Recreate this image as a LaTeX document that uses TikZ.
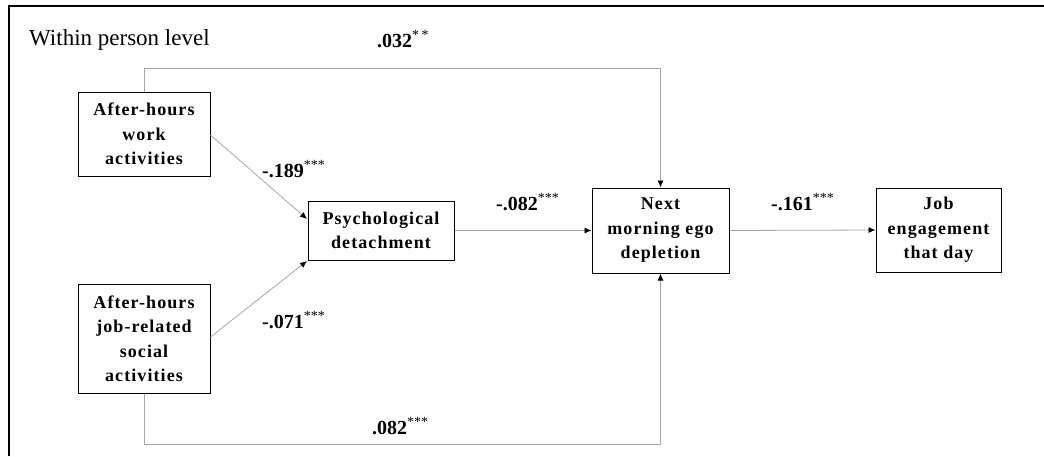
\documentclass[tikz,border=0pt]{standalone}
\usepackage{fontspec}
\setmainfont{Liberation Serif}
\newfontfamily\boxfont[LetterSpace=6]{Liberation Serif}
\usetikzlibrary{arrows.meta}
\begin{document}
\begin{tikzpicture}[x=1pt,y=-1pt,
  box/.style={draw=black,line width=1pt,align=center,inner sep=0pt,
    font=\boxfont\bfseries\fontsize{18}{24.5}\selectfont},
  conn/.style={draw=black!35,line width=0.8pt},
  arr/.style={conn,-{Latex[color=black,length=7pt,width=6pt]}},
  lab/.style={anchor=base west,inner sep=0pt,font=\bfseries\fontsize{20}{22}\selectfont}]
\useasboundingbox (0,0) rectangle (1044,456);
\fill[white] (0,0) rectangle (1044,456);
\draw[line width=2.6pt] (9,456) -- (9,6) -- (1044,6);
\node[anchor=base west,inner sep=0pt,font=\fontsize{23}{24}\selectfont] (title) at (29,45) {Within person level};

\node[box,minimum width=132,minimum height=84] (w) at (144,134) {After-hours\\work\\activities};
\node[box,minimum width=132,minimum height=109] (s) at (144,338.5) {After-hours\\job-related\\social\\activities};
\node[box,minimum width=146,minimum height=59] (p) at (381,230.5) {Psychological\\detachment};
\node[box,minimum width=137,minimum height=85] (n) at (660.5,230.5) {Next\\morning ego\\depletion};
\node[box,minimum width=125,minimum height=84] (j) at (938.5,230) {Job\\engagement\\that day};

\coordinate (t1) at (144,68);
\coordinate (t2) at (660.5,68);
\coordinate (b1) at (144,444);
\coordinate (b2) at (660.5,444);
\coordinate (pin1) at (307,219);
\coordinate (pin2) at (307,261);

\draw[arr] (w.north) -- (t1) -- (t2) -- (n.north);
\draw[arr] (s.south) -- (b1) -- (b2) -- (n.south);
\draw[arr] (w.east |- 0,135) -- (pin1);
\draw[arr] (s.east |- 0,337) -- (pin2);
\draw[arr] (p.east) -- (n.west);
\draw[arr] (n.east) -- (j.west);

\node[lab] (l1) at (377,47) {.032\textsuperscript{\mdseries *\,*}};
\node[lab] (l2) at (262,177) {-.189\textsuperscript{\mdseries ***}};
\node[lab] (l3) at (262,328) {-.071\textsuperscript{\mdseries ***}};
\node[lab] (l4) at (496,210) {-.082\textsuperscript{\mdseries ***}};
\node[lab] (l5) at (771,210) {-.161\textsuperscript{\mdseries ***}};
\node[lab] (l6) at (372,434) {.082\textsuperscript{\mdseries ***}};
\end{tikzpicture}
\end{document}
